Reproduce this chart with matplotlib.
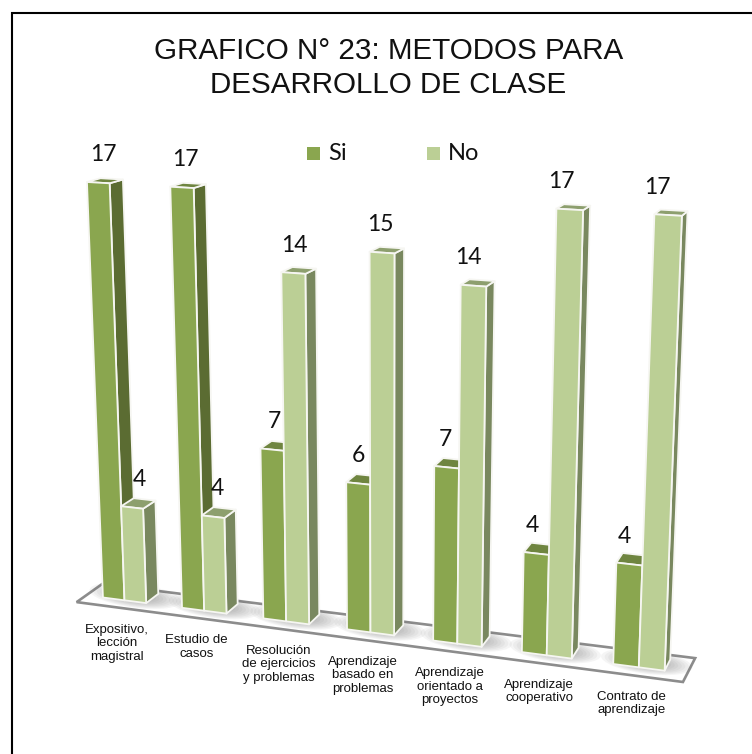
import numpy as np
import matplotlib
matplotlib.use("Agg")
import matplotlib.pyplot as plt
from matplotlib.collections import PolyCollection
from matplotlib.patches import Ellipse, Rectangle

categories = ["Expositivo,\nlección\nmagistral", "Estudio de\ncasos",
              "Resolución\nde ejercicios\ny problemas", "Aprendizaje\nbasado en\nproblemas",
              "Aprendizaje\norientado a\nproyectos", "Aprendizaje\ncooperativo",
              "Contrato de\naprendizaje"]
si_values = [17, 17, 7, 6, 7, 4, 4]
no_values = [4, 4, 14, 15, 14, 17, 17]
title = "GRAFICO N° 23: METODOS PARA\nDESARROLLO DE CLASE"

W = 0.275  # bar width in category units
# projective camera: (category position, value, depth, 1) -> screen pixels
P = np.array([[76.85992140235481, -1.2166024525757437, 14.25072295977039, 124.4673535499369],
              [1.9113755964753059, -25.105820078651117, -1.1330061404297305, 600.3005993331795],
              [-0.013878102123362008, -0.003142776114754564, 0.013672278054229551, 1.0]])


def project(u, v, d):
    q = P @ np.array([u, v, d, 1.0])
    return q[:2] / q[2]


fig = plt.figure(figsize=(7.52, 7.54), dpi=100)
ax = fig.add_axes([0, 0, 1, 1])
ax.set_xlim(0, 752)
ax.set_ylim(754, 0)
ax.axis("off")

# outer frame runs off the right and bottom of the picture
ax.add_patch(Rectangle((11.5, 12.5), 800, 800, fc="white", ec="black", lw=1.5))

# floor
floor = [project(-0.49, 0, -0.73), project(6.51, 0, -0.73), project(6.52, 0, 1.4), project(-0.49, 0, 1.25)]
ax.add_patch(plt.Polygon(floor, closed=True, fc="white", ec="#8c8c8c", lw=1.9, joinstyle="miter", zorder=1))

# soft shadows on the floor
for i in range(7):
    c = project(i + 0.05, 0, 0.55)
    ang = np.degrees(np.arctan2(*(project(i + 1, 0, 0) - project(i, 0, 0))[::-1]))
    for k in np.linspace(1, 0.3, 10):
        ax.add_patch(Ellipse(c, 92 * k, 24 * k, angle=ang, fc="#606060", ec="none", alpha=0.06, zorder=1.5))


def bar(u0, u1, v, front, side, top):
    f = [project(u0, 0, 0), project(u1, 0, 0), project(u1, v, 0), project(u0, v, 0)]
    s = [project(u1, 0, 0), project(u1, 0, 1), project(u1, v, 1), project(u1, v, 0)]
    t = [project(u0, v, 0), project(u1, v, 0), project(u1, v, 1), project(u0, v, 1)]
    ax.add_collection(PolyCollection([s, t, f], facecolors=[side, top, front],
                                     edgecolors="#f6f6f2", linewidths=1.3, zorder=2))


for i in range(7):
    bar(i - W, i, si_values[i], "#8aa64f", "#5b6c32", "#6f8540")
    bar(i, i + W, no_values[i], "#bbcf95", "#79885f", "#8d9f6e")
    a = project(i - W / 2, si_values[i], 0)
    b = project(i + W / 2, no_values[i], 0)
    ax.text(a[0] + 5.5 - 1.8 * i, a[1] - 28, str(si_values[i]), ha="center", va="center",
            fontsize=16.5, family="Lato", color="#111111", zorder=3)
    ax.text(b[0] + 7 - 3 * i, b[1] - 28, str(no_values[i]), ha="center", va="center",
            fontsize=16.5, family="Lato", color="#111111", zorder=3)
    c = project(i, 0, 0)
    ax.text(c[0] - 7.5, c[1] + 23.5, categories[i], ha="center", va="top", fontsize=9.5,
            family="Liberation Sans", linespacing=1.18, color="#111111", zorder=3)

# legend
for x, col, name, tx in [(307, "#8aa64f", "Si", 328), (427, "#bbcf95", "No", 448)]:
    ax.add_patch(Rectangle((x, 147), 13, 13, fc=col, ec="none", zorder=3))
    ax.text(tx, 153, name, ha="left", va="center", fontsize=17, family="Lato", color="#111111", zorder=3)

ax.text(388.5, 68, title, ha="center", va="center", fontsize=21.3, family="Liberation Sans",
        linespacing=1.24, color="#111111")
fig.savefig("out.png", dpi=100)
